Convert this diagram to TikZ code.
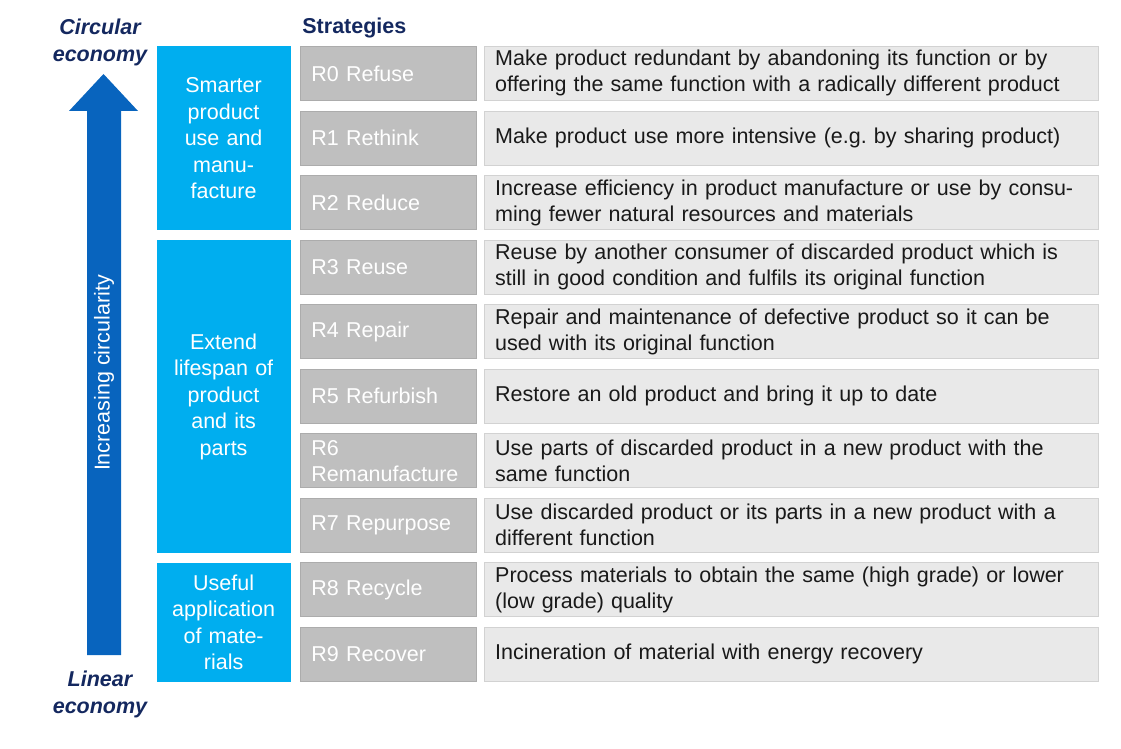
\documentclass[tikz,border=0pt]{standalone}
\usepackage{fontspec}
\setmainfont{Liberation Sans}
\usepackage{xcolor}
\usepackage{tikz}
\usetikzlibrary{positioning}
\definecolor{navy}{RGB}{20,40,95}
\definecolor{arrowblue}{RGB}{8,100,190}
\definecolor{groupblue}{RGB}{0,174,239}
\definecolor{stratgray}{RGB}{191,191,191}
\definecolor{stratline}{RGB}{172,172,172}
\definecolor{descgray}{RGB}{233,233,233}
\definecolor{descline}{RGB}{210,210,210}
\definecolor{txt}{RGB}{25,25,25}
\newcommand{\rfont}{\fontsize{21.5}{26}\selectfont}

\begin{document}
\begin{tikzpicture}[node distance={9.75pt and 7pt}, line width=0.8pt,
  strat/.style = {draw=stratline, fill=stratgray, text=white, text width=154pt, inner xsep=11pt, inner ysep=1pt, minimum height=54pt, align=left, font=\rfont},
  desc/.style = {draw=descline, fill=descgray, text=txt, text width=592pt, inner xsep=11pt, inner ysep=1pt, minimum height=54pt, align=left, font=\rfont},
  group/.style = {fill=groupblue, text=white, text width=126pt, inner xsep=4pt, align=center, font=\fontsize{21.5}{26.5}\selectfont},
  title/.style = {text=navy, align=center, font=\bfseries\itshape\fontsize{21.5}{27}\selectfont}]
\useasboundingbox (0pt,0pt) rectangle (1121pt,-749pt);
\node[strat, anchor=north west] (r0) at (300pt,-46pt) {R0 Refuse};
\node[strat] (r1) [below=of r0] {R1 Rethink};
\node[strat] (r2) [below=of r1] {R2 Reduce};
\node[strat] (r3) [below=of r2] {R3 Reuse};
\node[strat] (r4) [below=of r3] {R4 Repair};
\node[strat] (r5) [below=of r4] {R5 Refurbish};
\node[strat] (r6) [below=of r5] {R6\\Remanufacture};
\node[strat] (r7) [below=of r6] {R7 Repurpose};
\node[strat] (r8) [below=of r7] {R8 Recycle};
\node[strat] (r9) [below=of r8] {R9 Recover};
\node[desc] (d0) [right=of r0] {Make product redundant by abandoning its function or by\\offering the same function with a radically different product};
\node[desc] (d1) [right=of r1] {Make product use more intensive (e.g.\ by sharing product)};
\node[desc] (d2) [right=of r2] {Increase efficiency in product manufacture or use by consu-\\ming fewer natural resources and materials};
\node[desc] (d3) [right=of r3] {Reuse by another consumer of discarded product which is\\still in good condition and fulfils its original function};
\node[desc] (d4) [right=of r4] {Repair and maintenance of defective product so it can be\\used with its original function};
\node[desc] (d5) [right=of r5] {Restore an old product and bring it up to date};
\node[desc] (d6) [right=of r6] {Use parts of discarded product in a new product with the\\same function};
\node[desc] (d7) [right=of r7] {Use discarded product or its parts in a new product with a\\different function};
\node[desc] (d8) [right=of r8] {Process materials to obtain the same (high grade) or lower\\(low grade) quality};
\node[desc] (d9) [right=of r9] {Incineration of material with energy recovery};
\node[group, minimum height=184pt, anchor=north east] (g1) at ([xshift=-9pt]r0.north west) {Smarter\\product\\use and\\manu-\\facture};
\node[group, minimum height=313pt, anchor=north east] (g2) at ([xshift=-9pt]r3.north west) {Extend\\lifespan of\\product\\and its\\parts};
\node[group, minimum height=119pt, anchor=north east] (g3) at ([xshift=-9pt]r8.north west) {Useful\\application\\of mate-\\rials};
\node[anchor=base west, inner sep=0pt, text=navy, font=\bfseries\fontsize{21.5}{26}\selectfont] (strategies) at (302pt,-34pt) {Strategies};
\node[title] (circular) at (100pt,-42pt) {Circular\\economy};
\node[title] (linear) at (100pt,-694pt) {Linear\\economy};
\fill[arrowblue] (87pt,-655pt) -- (87pt,-111pt) -- (69pt,-111pt) -- (103.5pt,-74pt)
  -- (138pt,-111pt) -- (121pt,-111pt) -- (121pt,-655pt) -- cycle;
\node[rotate=90, text=white, font=\fontsize{21.5}{26}\selectfont] (circ) at (104pt,-373pt) {Increasing circularity};
\end{tikzpicture}
\end{document}
